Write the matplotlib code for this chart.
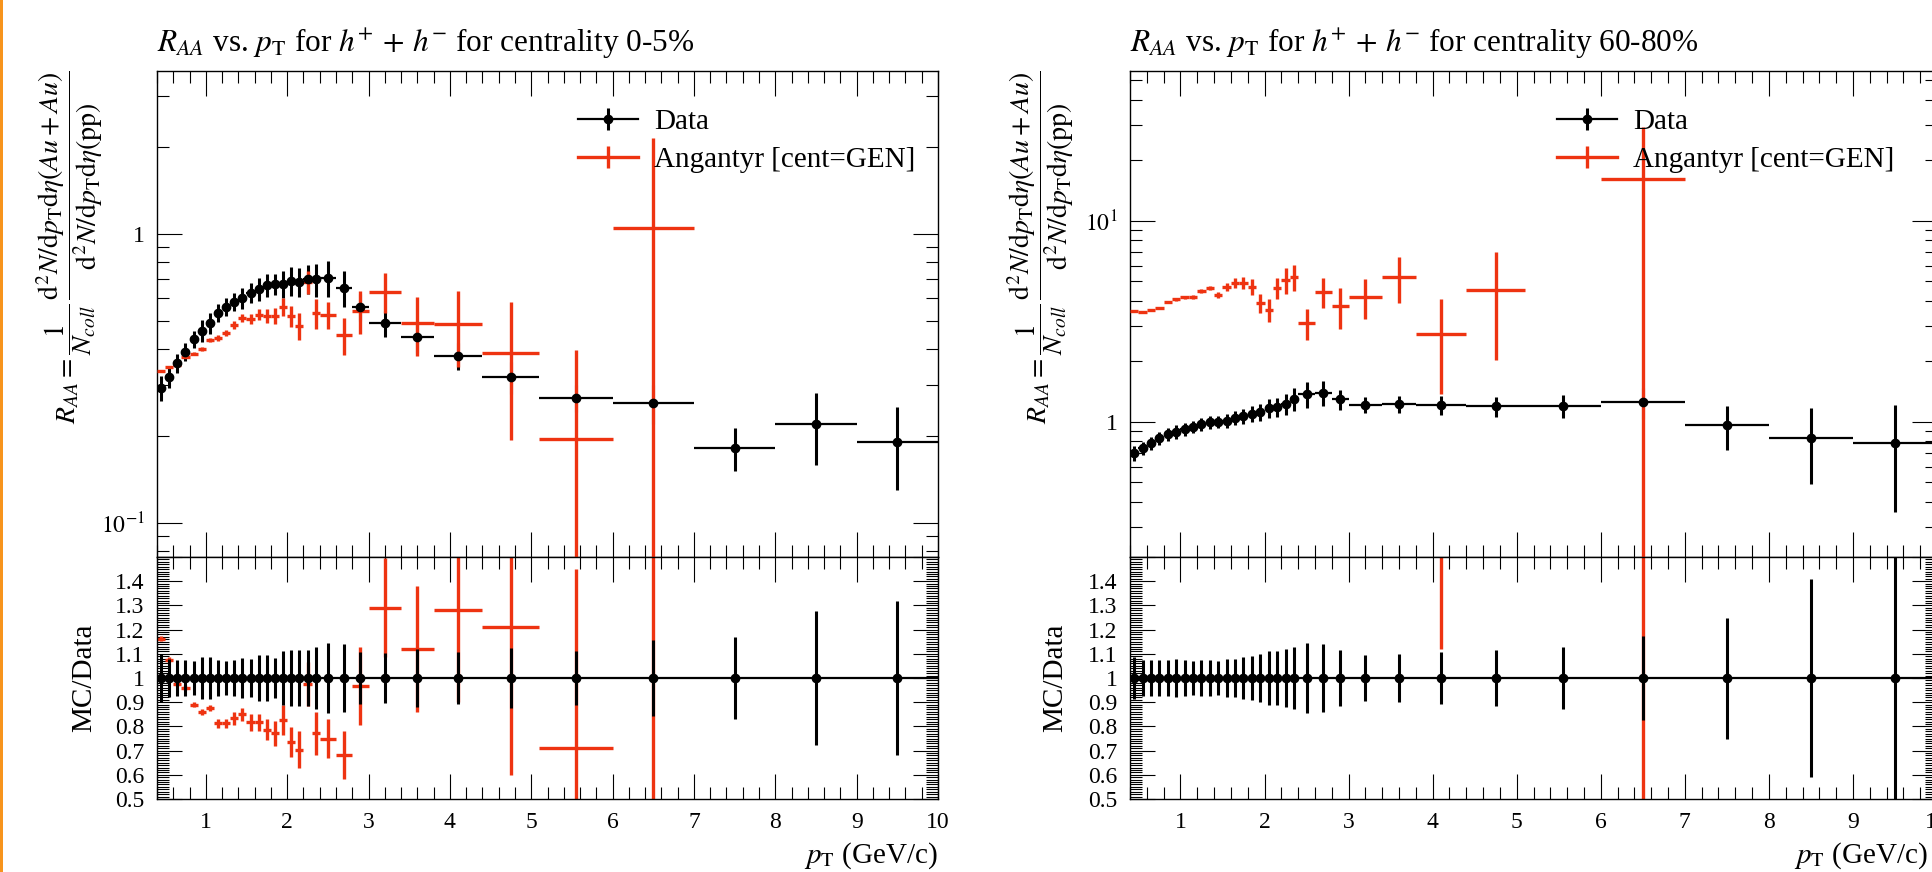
import numpy as np
import matplotlib
matplotlib.use("Agg")
import matplotlib.pyplot as plt
from matplotlib.lines import Line2D
from matplotlib.patches import Rectangle
from matplotlib.ticker import MultipleLocator, LogLocator, FuncFormatter, NullFormatter

nan = np.nan

plt.rcParams['font.family'] = ['Liberation Serif', 'DejaVu Serif']
plt.rcParams['mathtext.fontset'] = 'stix'

RED = '#EE3311'

# pT bin edges (GeV/c)
pt_edges = [0.4, 0.5, 0.6, 0.7, 0.8, 0.9, 1.0, 1.1, 1.2, 1.3, 1.4, 1.5, 1.6, 1.7, 1.8, 1.9,
            2.0, 2.1, 2.2, 2.3, 2.4, 2.6, 2.8, 3.0, 3.4, 3.8, 4.4, 5.1, 6.0, 7.0, 8.0, 9.0, 10.0]

# ---- centrality 0-5% ----
data_05 = [0.293, 0.320, 0.358, 0.391, 0.433, 0.462, 0.492, 0.533, 0.560, 0.582, 0.600, 0.625,
           0.645, 0.666, 0.672, 0.672, 0.688, 0.683, 0.698, 0.698, 0.705, 0.650, 0.560, 0.492,
           0.440, 0.378, 0.320, 0.271, 0.260, 0.182, 0.220, 0.191]
data_05_err = [0.029, 0.026, 0.027, 0.029, 0.030, 0.040, 0.042, 0.039, 0.039, 0.042, 0.050, 0.050,
               0.061, 0.063, 0.056, 0.074, 0.079, 0.079, 0.080, 0.091, 0.102, 0.091, 0.060, 0.051,
               0.053, 0.040, 0.040, 0.030, 0.040, 0.031, 0.061, 0.061]
data_05_rel = [0.10, 0.08, 0.076, 0.073, 0.07, 0.087, 0.085, 0.073, 0.069, 0.073, 0.083, 0.08,
               0.094, 0.094, 0.083, 0.11, 0.115, 0.115, 0.115, 0.13, 0.144, 0.14, 0.108, 0.104,
               0.12, 0.107, 0.125, 0.11, 0.155, 0.17, 0.275, 0.32]
mc_05 = [0.336, 0.347, 0.352, 0.375, 0.385, 0.400, 0.430, 0.436, 0.455, 0.484, 0.512, 0.508,
         0.525, 0.520, 0.520, 0.560, 0.520, 0.481, 0.683, 0.533, 0.525, 0.447, 0.542, 0.631,
         0.492, 0.489, 0.388, 0.195, 1.05, nan, nan, nan]
mc_05_err = [0.003, 0.003, 0.004, 0.004, 0.004, 0.006, 0.006, 0.011, 0.011, 0.015, 0.017, 0.022,
             0.023, 0.030, 0.034, 0.042, 0.043, 0.051, 0.063, 0.063, 0.056, 0.065, 0.090, 0.100,
             0.114, 0.144, 0.195, 0.200, 1.10, nan, nan, nan]
ratio_05 = [1.162, 1.075, 0.975, 0.96, 0.89, 0.858, 0.875, 0.812, 0.812, 0.833, 0.85, 0.817,
            0.817, 0.787, 0.771, 0.825, 0.737, 0.704, 0.975, 0.771, 0.75, 0.683, 0.967, 1.29,
            1.12, 1.28, 1.21, 0.71, 4.0, nan, nan, nan]
ratio_05_err = [0.01, 0.01, 0.01, 0.01, 0.01, 0.012, 0.012, 0.02, 0.02, 0.026, 0.028, 0.035,
                0.036, 0.045, 0.05, 0.062, 0.062, 0.075, 0.09, 0.09, 0.08, 0.10, 0.16, 0.205,
                0.26, 0.38, 0.61, 0.74, 4.2, nan, nan, nan]

# ---- centrality 60-80% ----
data_6080 = [0.701, 0.743, 0.786, 0.833, 0.872, 0.892, 0.923, 0.944, 0.977, 1.00, 1.00, 1.01,
             1.05, 1.07, 1.10, 1.12, 1.17, 1.19, 1.23, 1.30, 1.38, 1.40, 1.30, 1.22,
             1.23, 1.22, 1.20, 1.20, 1.26, 0.966, 0.83, 0.787]
data_6080_err = [0.060, 0.056, 0.059, 0.062, 0.065, 0.071, 0.069, 0.066, 0.073, 0.075, 0.070, 0.081,
                 0.084, 0.091, 0.099, 0.112, 0.129, 0.131, 0.148, 0.169, 0.200, 0.196, 0.150, 0.113,
                 0.123, 0.131, 0.138, 0.156, 0.220, 0.240, 0.340, 0.430]
data_6080_rel = [0.085, 0.075, 0.075, 0.075, 0.075, 0.08, 0.075, 0.07, 0.075, 0.075, 0.07, 0.08,
                 0.08, 0.085, 0.09, 0.10, 0.11, 0.11, 0.12, 0.13, 0.145, 0.14, 0.115, 0.093,
                 0.10, 0.107, 0.115, 0.13, 0.175, 0.25, 0.41, 0.55]
mc_6080 = [3.57, 3.53, 3.61, 3.69, 3.96, 4.09, 4.18, 4.18, 4.48, 4.65, 4.28, 4.70,
           4.92, 4.92, 4.70, 3.91, 3.61, 4.65, 5.09, 5.27, 3.11, 4.43, 3.78, 4.19,
           5.27, 2.74, 4.54, nan, 16.2, nan, nan, nan]
mc_6080_err_lo = [0.05, 0.05, 0.05, 0.06, 0.06, 0.07, 0.07, 0.08, 0.09, 0.10, 0.15, 0.20,
                  0.29, 0.34, 0.42, 0.43, 0.47, 0.56, 0.75, 0.78, 0.55, 0.76, 0.87, 0.93,
                  1.37, 1.37, 2.50, nan, 16.2, nan, nan, nan]
mc_6080_err_hi = [0.05, 0.05, 0.05, 0.06, 0.06, 0.07, 0.07, 0.08, 0.09, 0.10, 0.15, 0.20,
                  0.29, 0.34, 0.42, 0.43, 0.47, 0.56, 0.75, 0.78, 0.55, 0.76, 0.87, 0.93,
                  1.37, 1.37, 2.50, nan, 13.2, nan, nan, nan]
ratio_6080 = [5.1, 4.75, 4.6, 4.45, 4.55, 4.6, 4.5, 4.45, 4.6, 4.65, 4.3, 4.65,
              4.7, 4.6, 4.3, 3.5, 3.1, 3.9, 4.15, 4.05, 2.25, 3.15, 2.9, 3.45,
              4.3, 2.25, 3.8, nan, 12.9, nan, nan, nan]
ratio_6080_err_lo = [0.07, 0.07, 0.07, 0.07, 0.07, 0.08, 0.08, 0.09, 0.10, 0.10, 0.15, 0.20,
                     0.28, 0.32, 0.38, 0.38, 0.40, 0.47, 0.61, 0.60, 0.40, 0.55, 0.67, 0.76,
                     1.10, 1.13, 2.10, nan, 12.9, nan, nan, nan]
ratio_6080_err_hi = [0.07, 0.07, 0.07, 0.07, 0.07, 0.08, 0.08, 0.09, 0.10, 0.10, 0.15, 0.20,
                     0.28, 0.32, 0.38, 0.38, 0.40, 0.47, 0.61, 0.60, 0.40, 0.55, 0.67, 0.76,
                     1.10, 1.13, 2.10, nan, 10.5, nan, nan, nan]

edges = np.array(pt_edges)
centres = 0.5 * (edges[1:] + edges[:-1])
halfw = 0.5 * (edges[1:] - edges[:-1])

W, H = 1932, 872
fig = plt.figure(figsize=(W / 100, H / 100), dpi=100)


def box(x0, y0, x1, y1):
    return [x0 / W, 1 - y1 / H, (x1 - x0) / W, (y1 - y0) / H]


def log_fmt(v, pos):
    e = int(round(np.log10(v)))
    return '1' if e == 0 else r'$10^{%d}$' % e


def ratio_fmt(v, pos):
    if v > 1.45:
        return ''
    return '%g' % round(v, 2)


def style_axes(ax):
    ax.tick_params(which='both', direction='in', top=True, right=True, width=0.8,
                   labelsize=17, pad=9)
    ax.tick_params(which='major', length=18)
    ax.tick_params(which='minor', length=8.5)
    ax.xaxis.set_major_locator(MultipleLocator(1))
    ax.xaxis.set_minor_locator(MultipleLocator(0.2))
    for s in ax.spines.values():
        s.set_linewidth(1.0)
    ax.set_xlim(0.4, 10)


def draw_data(ax, y, yerr, z):
    ax.errorbar(centres, y, xerr=halfw, fmt='none', ecolor='black', elinewidth=1.6, zorder=z)
    ax.errorbar(centres, y, yerr=yerr, fmt='o', color='black', ms=6, elinewidth=2.2,
                capsize=0, zorder=z)


def draw_mc(ax, y, yerr, z):
    ax.errorbar(centres, y, xerr=halfw, yerr=yerr, fmt='none', ecolor=RED, elinewidth=2.4,
                capsize=0, zorder=z)


def panel(x0, x1, title, data, data_err, data_rel, mc, mc_err, ratio, ratio_err, ylim,
          leg_x, xlab_x):
    ax = fig.add_axes(box(x0, 71, x1, 557))
    axr = fig.add_axes(box(x0, 557, x1, 799), sharex=ax)

    ax.set_yscale('log')
    draw_data(ax, data, data_err, 3)
    draw_mc(ax, mc, mc_err, 3.05)
    ax.set_ylim(*ylim)
    style_axes(ax)
    ax.yaxis.set_major_locator(LogLocator(base=10))
    ax.yaxis.set_minor_locator(LogLocator(base=10, subs=np.arange(2, 10)))
    ax.yaxis.set_major_formatter(FuncFormatter(log_fmt))
    ax.yaxis.set_minor_formatter(NullFormatter())
    ax.tick_params(labelbottom=False)
    ax.set_title(r'$R_{AA}$ vs. $p_\mathrm{T}$ for $h^{+}\,+\,h^{-}$ for centrality ' + title,
                 loc='left', fontsize=22.5, pad=14)
    ax.set_ylabel(r'$R_{AA} = \dfrac{1}{N_{coll}}\,\dfrac{\mathrm{d}^2N/\mathrm{d}p_\mathrm{T}'
                  r'\mathrm{d}\eta(Au+Au)}{\mathrm{d}^2N/\mathrm{d}p_\mathrm{T}\mathrm{d}\eta(\mathrm{pp})}$',
                  fontsize=20, loc='top')
    ax.yaxis.set_label_coords(-0.067, 1.0)

    draw_mc(axr, ratio, ratio_err, 2)
    draw_data(axr, np.ones(len(centres)), data_rel, 3)
    axr.set_ylim(0.5, 1.5)
    style_axes(axr)
    axr.yaxis.set_major_locator(MultipleLocator(0.1))
    axr.yaxis.set_minor_locator(MultipleLocator(0.01))
    axr.yaxis.set_major_formatter(FuncFormatter(ratio_fmt))
    axr.set_ylabel('MC/Data', fontsize=21)
    axr.yaxis.set_label_coords(-0.077, 0.5)
    axr.set_xlabel(r'$p_\mathrm{T}$ (GeV/c)', fontsize=21, loc='right')
    axr.xaxis.set_label_coords(xlab_x, -0.17)

    h_data = (Line2D([], [], color='black', lw=1.6),
              Line2D([], [], color='black', ls='none', marker='|', ms=16, mew=2.2),
              Line2D([], [], color='black', ls='none', marker='o', ms=6))
    h_mc = (Line2D([], [], color=RED, lw=2.4),
            Line2D([], [], color=RED, ls='none', marker='|', ms=16, mew=2.4))
    ax.legend([h_data, h_mc], ['Data', 'Angantyr [cent=GEN]'], loc='upper left',
              bbox_to_anchor=(leg_x, 0.922), frameon=False, fontsize=21, borderpad=0,
              borderaxespad=0, handlelength=2.05, handletextpad=0.55, labelspacing=0.4)
    return ax, axr


panel(157, 938, '0-5%', data_05, data_05_err, data_05_rel, mc_05, mc_05_err,
      ratio_05, ratio_05_err, (0.0762, 3.66), 0.539, 1.0)
panel(1130, 1937, '60-80%', data_6080, data_6080_err, data_6080_rel, mc_6080,
      [mc_6080_err_lo, mc_6080_err_hi], ratio_6080, [ratio_6080_err_lo, ratio_6080_err_hi],
      (0.213, 55.7), 0.529, 0.989)

fig.add_artist(Rectangle((0, 0), 3 / W, 1, transform=fig.transFigure, color='#F7941D', lw=0))

fig.savefig('out.png', dpi=100)
